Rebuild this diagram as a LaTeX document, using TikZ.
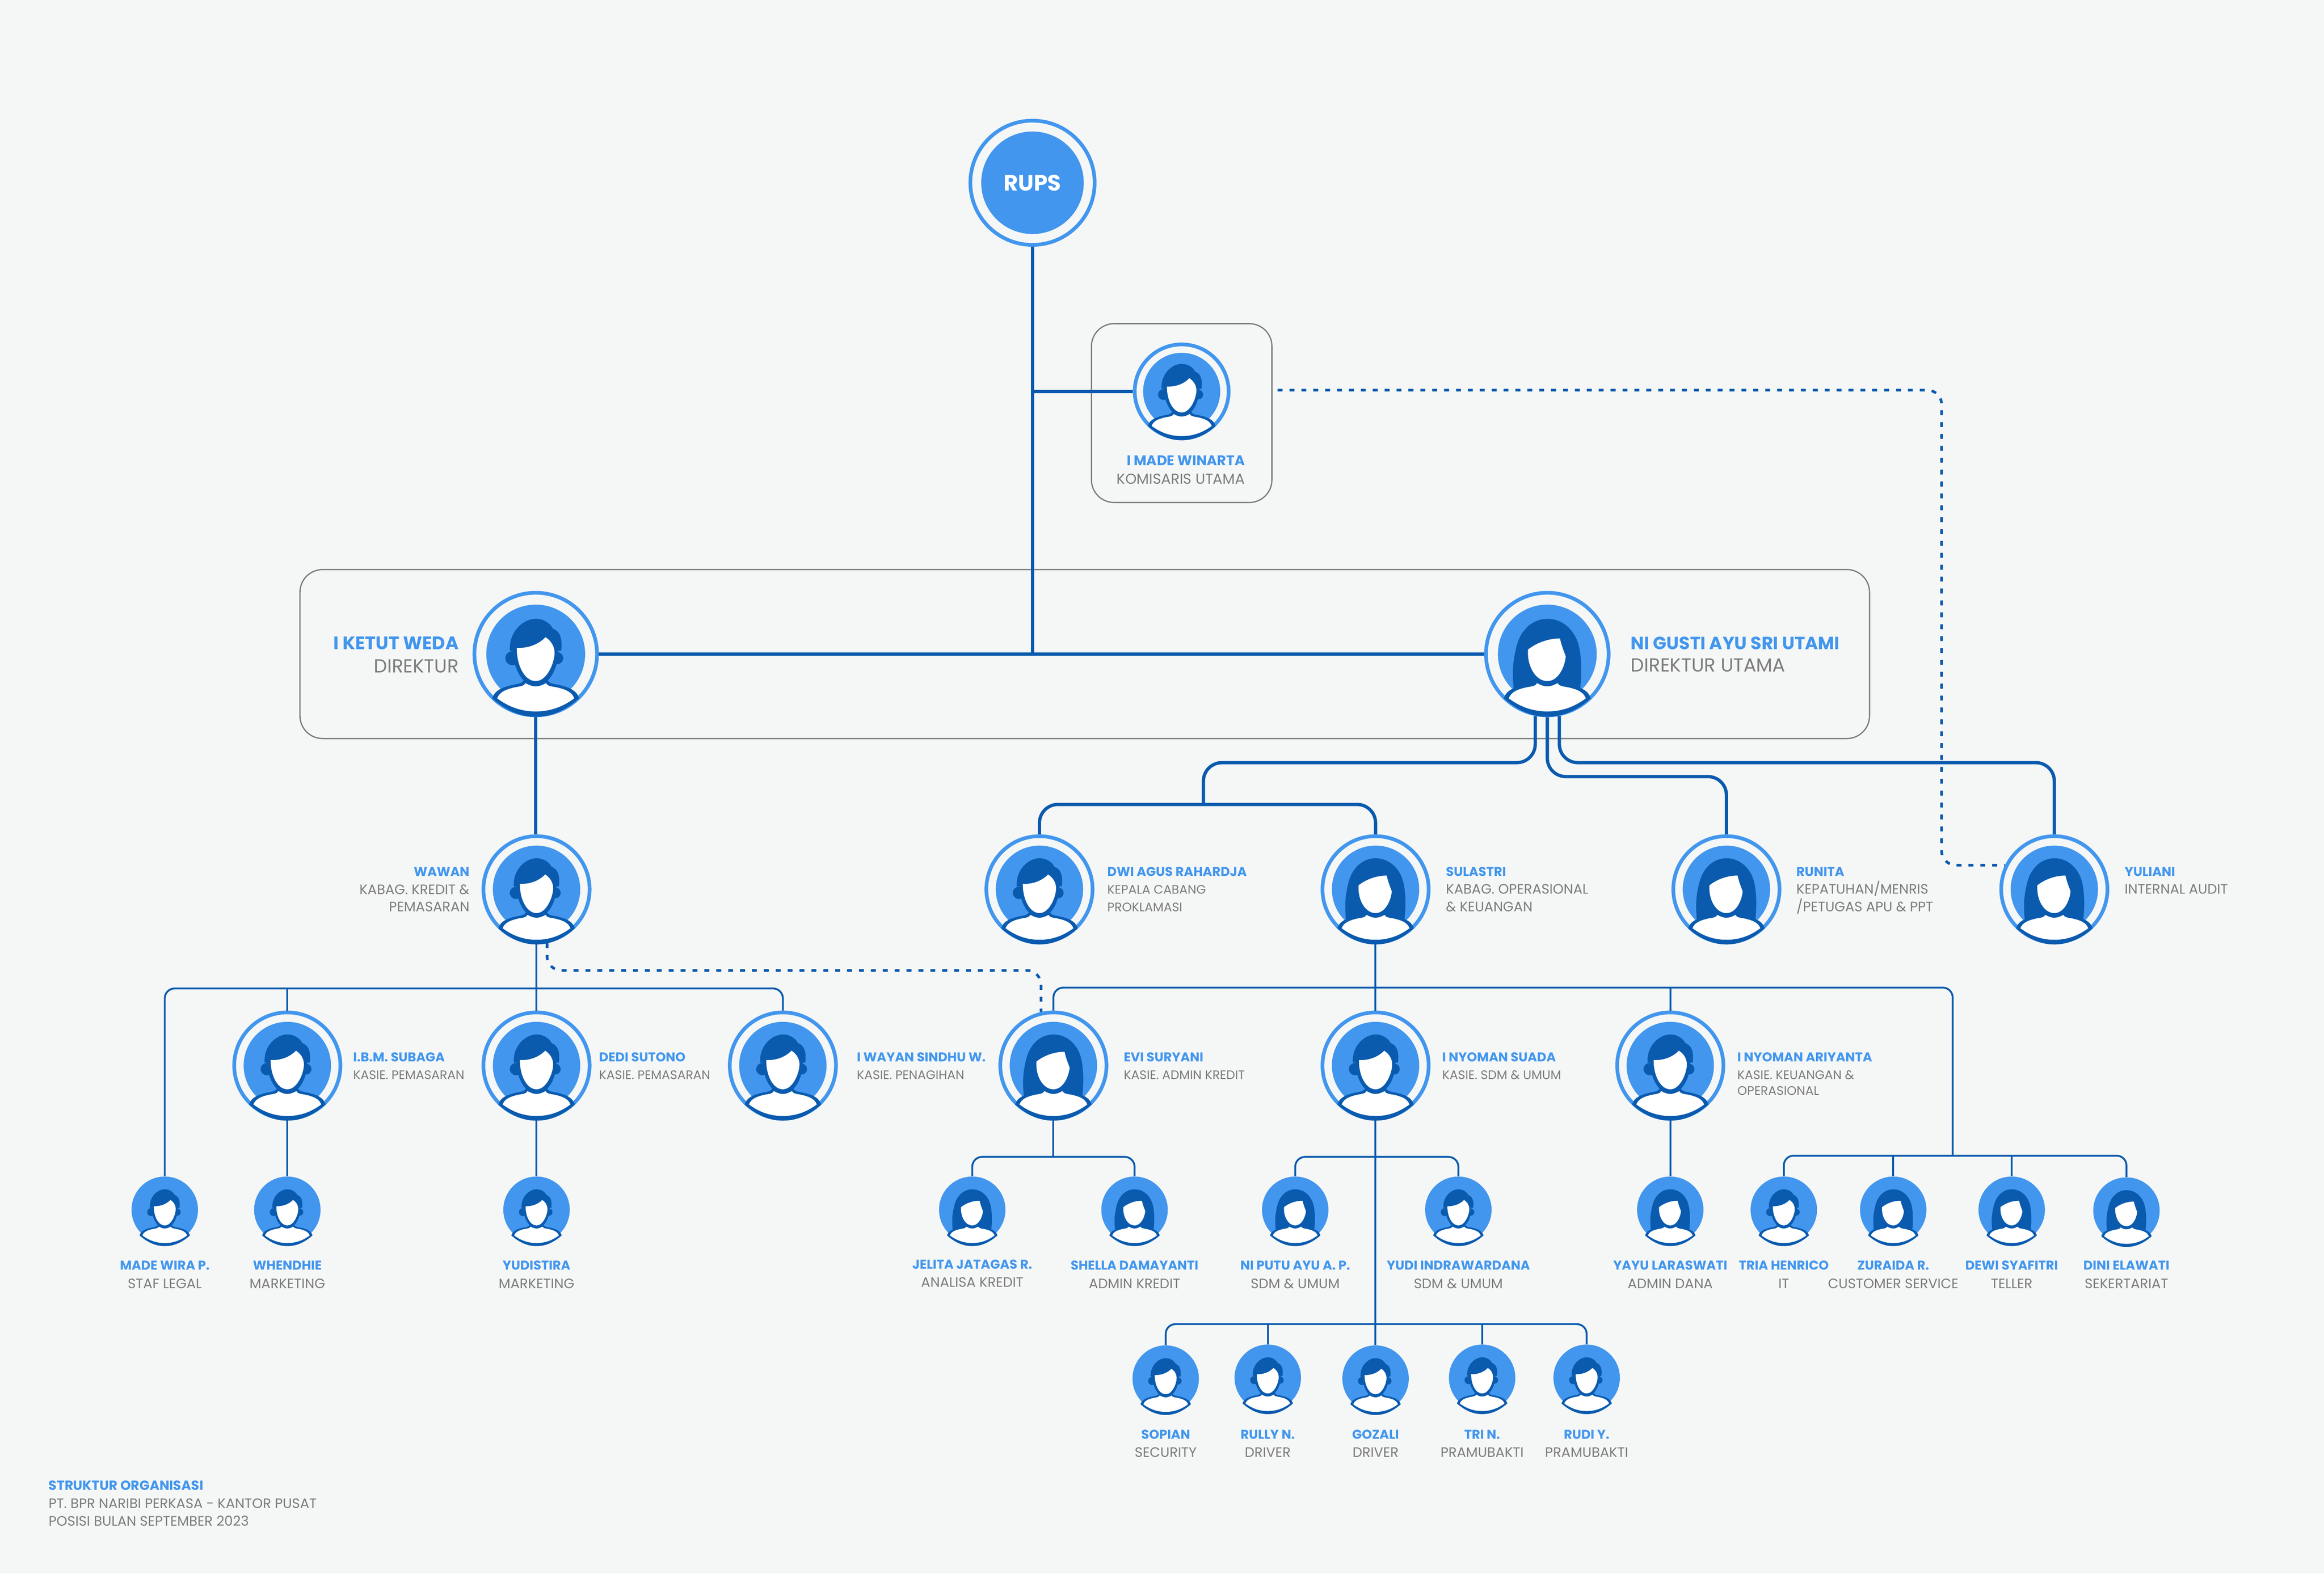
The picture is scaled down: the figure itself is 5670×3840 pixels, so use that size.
\documentclass[tikz,border=0pt]{standalone}
\usepackage{fontspec}
\setmainfont{Poppins}
\definecolor{paper}{HTML}{F5F7F6}
\definecolor{discblue}{HTML}{4296EE}
\definecolor{linkblue}{HTML}{0A5AAE}
\definecolor{textgrey}{HTML}{7C7C7C}
\definecolor{framegrey}{HTML}{7A7A7A}
\tikzstyle{ring}=[
        circle,
        draw=discblue,
        fill=paper,
        line width=0.09cm,
        inner sep=0,
        minimum size=#1
]
\tikzstyle{disc}=[
        circle,
        fill=discblue,
        inner sep=0,
        minimum size=#1
]
\tikzstyle{panel}=[
        draw=framegrey,
        line width=0.03cm,
        rounded corners=0.55cm,
        inner sep=0
]
\tikzstyle{boldlink}=[
        draw=linkblue,
        line width=0.08cm,
        rounded corners=0.45cm
]
\tikzstyle{thinlink}=[
        draw=linkblue,
        line width=0.045cm,
        rounded corners=0.24cm
]
\tikzstyle{dashlink}=[
        draw=linkblue,
        line width=0.065cm,
        rounded corners=0.35cm,
        dash pattern=on 0.12cm off 0.17cm
]
\tikzstyle{namelabel}=[
        text=discblue,
        inner sep=0,
        yshift=-0.03cm,
        font=\fontsize{8.9}{10}\selectfont\bfseries
]
\tikzstyle{rolelabel}=[
        text=textgrey,
        inner sep=0,
        yshift=-0.03cm,
        font=\fontsize{8.6}{10}\selectfont
]
\tikzstyle{lowrole}=[
        rolelabel,
        font=\fontsize{9.5}{11}\selectfont
]
\tikzstyle{bigname}=[
        namelabel,
        yshift=-0.06cm,
        font=\fontsize{12.6}{14}\selectfont\bfseries
]
\tikzstyle{bigrole}=[
        rolelabel,
        yshift=-0.06cm,
        font=\fontsize{13.1}{15}\selectfont
]
\newcommand{\shoulders}{
        \fill[linkblue] (-106,108) .. controls (-70,140) and (-35,153) .. (0,153)
                .. controls (35,153) and (70,140) .. (106,108)
                .. controls (100,88) and (80,80) .. (50,74)
                .. controls (38,72) and (30,70) .. (28,60) -- (-28,60)
                .. controls (-30,70) and (-38,72) .. (-50,74)
                .. controls (-80,80) and (-100,88) .. (-106,108) -- cycle;
        \fill[white] (-94,108) .. controls (-62,132) and (-30,140) .. (0,140)
                .. controls (30,140) and (62,132) .. (94,108)
                .. controls (88,92) and (72,86) .. (50,81)
                .. controls (38,79) and (28,78) .. (25,71)
                .. controls (16,76) and (8,79) .. (0,79)
                .. controls (-8,79) and (-16,76) .. (-25,71)
                .. controls (-28,78) and (-38,79) .. (-50,81)
                .. controls (-72,86) and (-88,92) .. (-94,108) -- cycle;
}
\tikzset{
        man/.pic={
                \fill[linkblue] (-63,-8) .. controls (-66,-55) and (-30,-86) .. (0,-86)
                        .. controls (20,-86) and (35,-75) .. (42,-62)
                        .. controls (58,-56) and (66,-40) .. (62,-8) -- cycle;
                \fill[linkblue] (-57,10) circle (17);
                \fill[linkblue] (52,10) circle (15);
                \fill[linkblue] (-56,-10) .. controls (-55,35) and (-32,78) .. (0,78)
                        .. controls (32,78) and (56,35) .. (55,-10) -- cycle;
                \shoulders
                \fill[white] (-46,-15) .. controls (-20,-14) and (5,-22) .. (24,-41)
                        .. controls (38,-32) and (46,-18) .. (46,-3)
                        .. controls (46,20) and (28,66) .. (0,66)
                        .. controls (-28,66) and (-47,25) .. (-46,-15) -- cycle;
        },
        woman/.pic={
                \fill[linkblue] (-82,85) .. controls (-86,40) and (-84,20) .. (-76,-15)
                        .. controls (-66,-60) and (-35,-86) .. (0,-86)
                        .. controls (40,-86) and (70,-55) .. (78,-15)
                        .. controls (84,15) and (84,50) .. (80,85) -- cycle;
                \shoulders
                \fill[white] (-47,-11) .. controls (-28,-26) and (0,-38) .. (31,-38)
                        .. controls (34,-22) and (40,-8) .. (45,6)
                        .. controls (42,35) and (25,66) .. (0,66)
                        .. controls (-28,66) and (-50,30) .. (-47,-11) -- cycle;
        }
}
\begin{document}
\begin{tikzpicture}[x=0.01cm,y=-0.01cm]
        \path[use as bounding box,fill=paper] (0,0) rectangle (5670,3840);

        \node[panel,minimum width=38.27cm,minimum height=4.12cm] (direksi) at (2646.5,1596) {};
        \node[panel,minimum width=4.40cm,minimum height=4.36cm] (komisarisbox) at (2883,1008) {};

        \node[ring=3.03cm] (rups) at (2519,446) {};
        \node[disc=2.50cm,text=white,font=\fontsize{15.4}{17}\selectfont\bfseries] (rupsdisc) at (rups) {RUPS};

        % the two directors
        \foreach \id/\x/\kind in {ketut/1307/man,nigusti/3775/woman} {
                \node[ring=2.99cm] (\id) at (\x,1596) {};
                \node[disc=2.41cm] (\id disc) at (\id) {};
                \pic at (\id) {\kind};
        }

        \node[ring=2.29cm] (komisaris) at (2883,955) {};
        \node[disc=1.88cm] (komisaris disc) at (komisaris) {};
        \pic[scale=0.78] at (komisaris) {man};

        % kabag and kasie rows
        \foreach \id/\x/\y/\kind in {wawan/1309/2170/man,dwi/2536/2170/man,sulastri/3356/2170/woman,
                        runita/4212/2170/woman,yuliani/5012/2170/woman,subaga/701/2600/man,dedi/1309/2600/man,
                        wayan/1910/2600/man,evi/2570/2600/woman,suada/3356/2600/man,ariyanta/4075/2600/man} {
                \node[ring=2.59cm] (\id) at (\x,\y) {};
                \node[disc=2.13cm] (\id disc) at (\id) {};
                \pic[scale=0.88] at (\id) {\kind};
        }

        % staff rows
        \foreach \id/\x/\y/\kind in {madewira/402/2952/man,whendhie/701/2952/man,yudistira/1309/2952/man,
                        jelita/2372/2952/woman,shella/2768/2952/woman,niputu/3160/2952/woman,yudi/3558/2952/man,
                        yayu/4075/2952/woman,tria/4352/2952/man,zuraida/4619/2952/woman,dewi/4908/2952/woman,
                        dini/5188/2954/woman,sopian/2844/3364/man,rully/3093/3362/man,gozali/3356/3364/man,
                        trin/3616/3362/man,rudi/3871/3362/man} {
                \node[disc=1.62cm] (\id) at (\x,\y) {};
                \pic[scale=0.58] at (\id) {\kind};
        }

        % board links
        \coordinate (rupsjoint) at (2519,1596);
        \draw[boldlink] (rups.south) -- (rupsjoint);
        \draw[boldlink] (ketut.east) -- (nigusti.west);
        \draw[boldlink] (komisaris.west) -- (komisaris.west -| rupsjoint);
        \draw[boldlink] (ketut.south) -- (ketut.south |- wawan.north);

        % links under the main director
        \coordinate (kabagtop) at (2936,1861);
        \coordinate (kabagjoint) at (2936,1963);
        \coordinate (runitarail) at (4000,1895);
        \coordinate (yulianirail) at (4400,1861);
        \draw[boldlink] (nigusti.259) |- (kabagtop) -- (kabagjoint);
        \draw[boldlink] (dwi.north) |- (kabagjoint) -| (sulastri.north);
        \draw[boldlink] (nigusti.south) |- (runitarail) -| (runita.north);
        \draw[boldlink] (nigusti.281) |- (yulianirail) -| (yuliani.north);

        % kredit side
        \coordinate (creditrail) at (1309,2412);
        \draw[thinlink] (madewira.north) |- (creditrail) -| (wayan.north);
        \draw[thinlink] (wawan.south) -- (dedi.north);
        \draw[thinlink] (subaga.north) -- (subaga.north |- creditrail);
        \draw[thinlink] (subaga.south) -- (whendhie.north);
        \draw[thinlink] (dedi.south) -- (yudistira.north);

        % operasional side
        \coordinate (opsrail) at (3356,2410);
        \coordinate (frontrail) at (4764,2820);
        \coordinate (adminrail) at (2570,2823);
        \coordinate (sdmrail) at (3356,2823);
        \coordinate (umumrail) at (3356,3231);
        \draw[thinlink] (evi.north) |- (opsrail) -| (frontrail);
        \draw[thinlink] (tria.north) |- (frontrail) -| (dini.north);
        \draw[thinlink] (sulastri.south) -- (suada.north);
        \draw[thinlink] (ariyanta.north) -- (ariyanta.north |- opsrail);
        \draw[thinlink] (ariyanta.south) -- (yayu.north);
        \draw[thinlink] (jelita.north) |- (adminrail) -| (shella.north);
        \draw[thinlink] (evi.south) -- (adminrail);
        \draw[thinlink] (niputu.north) |- (sdmrail) -| (yudi.north);
        \draw[thinlink] (suada.south) -- (gozali.north);
        \draw[thinlink] (sopian.north) |- (umumrail) -| (rudi.north);
        \foreach \id in {zuraida,dewi} {
                \draw[thinlink] (\id.north) -- (\id.north |- frontrail);
        }
        \foreach \id in {rully,trin} {
                \draw[thinlink] (\id.north) -- (\id.north |- umumrail);
        }

        % dotted lines
        \coordinate (auditcorner) at (4737,952);
        \coordinate (auditstart) at (3117,952);
        \draw[dashlink] (auditstart) -- (auditcorner) |- (yuliani.154);
        \coordinate (kreditrail) at (1900,2368);
        \draw[dashlink] (wawan.281) |- (kreditrail) -| (evi.103);

        % top labels
        \node[bigname,anchor=mid east] (ketut name) at (1120,1566) {I KETUT WEDA};
        \node[bigrole,anchor=mid east] (ketut role) at (1120,1623) {DIREKTUR};
        \node[bigname,anchor=mid west,font=\fontsize{12.3}{14}\selectfont\bfseries] (nigusti name) at (3978,1566) {NI GUSTI AYU SRI UTAMI};
        \node[bigrole,anchor=mid west] (nigusti role) at (3978,1621) {DIREKTUR UTAMA};
        \node[namelabel,anchor=mid east,font=\fontsize{9.7}{11}\selectfont\bfseries] (komisaris name) at (3038,1123) {I MADE WINARTA};
        \node[lowrole,anchor=mid east,font=\fontsize{10}{12}\selectfont] (komisaris role) at (3038,1168) {KOMISARIS UTAMA};

        \node[namelabel,anchor=mid east] (wawan name) at (1146,2126) {WAWAN};
        \node[lowrole,anchor=mid east] (wawan role) at (1146,2170) {KABAG. KREDIT \&};
        \node[lowrole,anchor=mid east] (wawan more) at (1146,2212) {PEMASARAN};

        % labels right of the circle
        \foreach \id/\x/\who/\job in {sulastri/3527/SULASTRI/KABAG. OPERASIONAL,
                        runita/4382/RUNITA/{KEPATUHAN/MENRIS},
                        yuliani/5183/YULIANI/INTERNAL AUDIT} {
                \node[namelabel,anchor=mid west] (\id name) at (\x,2126) {\who};
                \node[lowrole,anchor=mid west] (\id role) at (\x,2169) {\job};
        }
        \foreach \id/\x/\y/\who/\job in {dwi/2701/2126/DWI AGUS RAHARDJA/KEPALA CABANG,
                        subaga/861/2578/I.B.M. SUBAGA/KASIE. PEMASARAN,
                        dedi/1461/2578/DEDI SUTONO/KASIE. PEMASARAN,
                        wayan/2090/2578/I WAYAN SINDHU W./KASIE. PENAGIHAN,
                        evi/2741/2578/EVI SURYANI/KASIE. ADMIN KREDIT,
                        suada/3518/2578/I NYOMAN SUADA/KASIE. SDM \& UMUM,
                        ariyanta/4238/2578/I NYOMAN ARIYANTA/KASIE. KEUANGAN \&} {
                \node[namelabel,anchor=mid west] (\id name) at (\x,\y) {\who};
                \node[rolelabel,anchor=mid west] (\id role) at (\x,\y+43) {\job};
        }
        \node[rolelabel,anchor=mid west] (dwi more) at (2701,2212) {PROKLAMASI};
        \node[lowrole,anchor=mid west] (sulastri more) at (3527,2212) {\& KEUANGAN};
        \node[lowrole,anchor=mid west] (runita more) at (4382,2212) {/PETUGAS APU \& PPT};
        \node[rolelabel,anchor=mid west] (ariyanta more) at (4238,2660) {OPERASIONAL};

        % labels under the circle
        \foreach \id/\x/\y/\who/\job in {madewira/402/3085/MADE WIRA P./STAF LEGAL,
                        whendhie/701/3085/WHENDHIE/MARKETING,
                        yudistira/1309/3085/YUDISTIRA/MARKETING,
                        jelita/2372/3082/JELITA JATAGAS R./ANALISA KREDIT,
                        shella/2768/3085/SHELLA DAMAYANTI/ADMIN KREDIT,
                        niputu/3160/3085/NI PUTU AYU A. P./SDM \& UMUM,
                        yudi/3558/3085/YUDI INDRAWARDANA/SDM \& UMUM,
                        yayu/4075/3085/YAYU LARASWATI/ADMIN DANA,
                        tria/4352/3085/TRIA HENRICO/IT,
                        zuraida/4619/3085/ZURAIDA R./CUSTOMER SERVICE,
                        dewi/4908/3085/DEWI SYAFITRI/TELLER,
                        dini/5188/3085/DINI ELAWATI/SEKERTARIAT,
                        sopian/2844/3497/SOPIAN/SECURITY,
                        rully/3093/3497/RULLY N./DRIVER,
                        gozali/3356/3497/GOZALI/DRIVER,
                        trin/3616/3497/TRI N./PRAMUBAKTI,
                        rudi/3871/3497/RUDI Y./PRAMUBAKTI} {
                \node[namelabel] (\id name) at (\x,\y) {\who};
                \node[lowrole] (\id role) at (\x,\y+44) {\job};
        }

        \node[namelabel,anchor=mid west,font=\fontsize{9.2}{11}\selectfont\bfseries] (footer name) at (118,3624) {STRUKTUR ORGANISASI};
        \node[lowrole,anchor=mid west] (footer office) at (118,3668) {PT. BPR NARIBI PERKASA - KANTOR PUSAT};
        \node[lowrole,anchor=mid west] (footer date) at (118,3711) {POSISI BULAN SEPTEMBER 2023};
\end{tikzpicture}
\end{document}
